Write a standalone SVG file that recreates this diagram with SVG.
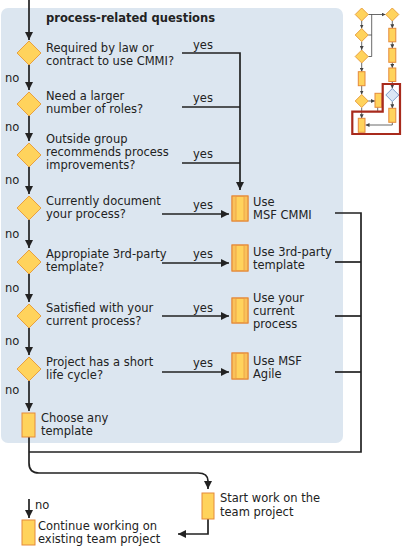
<svg xmlns="http://www.w3.org/2000/svg" width="402" height="546" viewBox="0 0 402 546">
<style>
.t{font-family:"DejaVu Sans",Verdana,sans-serif;font-size:11.5px;fill:#222}
.b{font-weight:bold}
.ln{fill:none;stroke:#222;stroke-width:1.7}
.sl{fill:none;stroke:#444;stroke-width:0.8}
.dia{fill:#ffd35c;stroke:#e8a040;stroke-width:1}
.box{fill:#ffd35c;stroke:#e58a3a;stroke-width:1}
.band{fill:#f9c25a;stroke:none}
.bl{stroke:#ec9f45;stroke-width:0.8}
.bdia{fill:#dbe7f5;stroke:#7c9ecb;stroke-width:1}
</style>
<defs>
<marker id="ar" markerUnits="userSpaceOnUse" markerWidth="8" markerHeight="8" refX="8" refY="4" orient="auto">
<path d="M0,0 L8,4 L0,8 Z" fill="#222"/>
</marker>
<marker id="sa" markerUnits="userSpaceOnUse" markerWidth="4" markerHeight="4" refX="4" refY="2" orient="auto">
<path d="M0,0 L4,2 L0,4 Z" fill="#444"/>
</marker>
</defs>
<rect x="1" y="8" width="342" height="435" rx="7" fill="#dce6f0"/>
<text class="t b" x="46" y="22">process-related questions</text>

<g id="connectors">
<path class="ln" d="M29,0 V40" marker-end="url(#ar)"/>
<path class="ln" d="M29,65 V90" marker-end="url(#ar)"/>
<path class="ln" d="M29,116 V141" marker-end="url(#ar)"/>
<path class="ln" d="M29,167 V194" marker-end="url(#ar)"/>
<path class="ln" d="M29,220 V248" marker-end="url(#ar)"/>
<path class="ln" d="M29,274 V302" marker-end="url(#ar)"/>
<path class="ln" d="M29,328 V355" marker-end="url(#ar)"/>
<path class="ln" d="M29,381 V411" marker-end="url(#ar)"/>
<path class="ln" d="M182,53 H240 V190" marker-end="url(#ar)"/>
<path class="ln" d="M182,107 H240"/>
<path class="ln" d="M182,163 H240"/>
<path class="ln" d="M162,214 H229" marker-end="url(#ar)"/>
<path class="ln" d="M162,263 H229" marker-end="url(#ar)"/>
<path class="ln" d="M162,316 H229" marker-end="url(#ar)"/>
<path class="ln" d="M162,372 H229" marker-end="url(#ar)"/>
<path class="ln" d="M335,213 H361 V452 H29"/>
<path class="ln" d="M335,262 H361"/>
<path class="ln" d="M335,316 H361"/>
<path class="ln" d="M335,372 H361"/>
<path class="ln" d="M29,437 V463 Q29,473 39,473 H198 Q208,473 208,481 V489" marker-end="url(#ar)"/>
<path class="ln" d="M208,519 V534 H178" marker-end="url(#ar)"/>
<path class="ln" d="M29,499 V518" marker-end="url(#ar)"/>
<text class="t" x="5" y="82">no</text>
<text class="t" x="5" y="131">no</text>
<text class="t" x="5" y="184">no</text>
<text class="t" x="5" y="238">no</text>
<text class="t" x="5" y="292">no</text>
<text class="t" x="5" y="345">no</text>
<text class="t" x="5" y="394">no</text>
<text class="t" x="193" y="49">yes</text>
<text class="t" x="193" y="102">yes</text>
<text class="t" x="193" y="158">yes</text>
<text class="t" x="193" y="209">yes</text>
<text class="t" x="193" y="258">yes</text>
<text class="t" x="193" y="312">yes</text>
<text class="t" x="193" y="367">yes</text>
<text class="t" x="35" y="509">no</text>
</g>

<g id="q1"><path class="dia" d="M29,41 L41,53 L29,65 L17,53 Z"/>
<text class="t" x="46" y="52">Required by law or</text><text class="t" x="46" y="65">contract to use CMMI?</text></g>
<g id="q2"><path class="dia" d="M29,92 L41,104 L29,116 L17,104 Z"/>
<text class="t" x="46" y="100">Need a larger</text><text class="t" x="46" y="113">number of roles?</text></g>
<g id="q3"><path class="dia" d="M29,143 L41,155 L29,167 L17,155 Z"/>
<text class="t" x="46" y="143">Outside group</text><text class="t" x="46" y="156">recommends process</text><text class="t" x="46" y="169">improvements?</text></g>
<g id="q4"><path class="dia" d="M29,196 L41,208 L29,220 L17,208 Z"/>
<text class="t" x="46" y="205">Currently document</text><text class="t" x="46" y="218">your process?</text></g>
<g id="q5"><path class="dia" d="M29,250 L41,262 L29,274 L17,262 Z"/>
<text class="t" x="46" y="258">Appropiate 3rd-party</text><text class="t" x="46" y="271">template?</text></g>
<g id="q6"><path class="dia" d="M29,304 L41,316 L29,328 L17,316 Z"/>
<text class="t" x="46" y="312">Satisfied with your</text><text class="t" x="46" y="325">current process?</text></g>
<g id="q7"><path class="dia" d="M29,357 L41,369 L29,381 L17,369 Z"/>
<text class="t" x="46" y="366">Project has a short</text><text class="t" x="46" y="379">life cycle?</text></g>

<g id="cmmi"><rect class="box" x="232" y="196" width="16" height="25"/><rect class="band" x="232.5" y="196.5" width="3.5" height="24"/><rect class="band" x="244" y="196.5" width="3.5" height="24"/><path class="bl" d="M236,196.5 V220.5 M244,196.5 V220.5"/><rect x="232" y="196" width="16" height="25" fill="none" stroke="#e58a3a"/>
<text class="t" x="253" y="206">Use</text><text class="t" x="253" y="219">MSF CMMI</text></g>
<g id="thirdparty"><rect class="box" x="232" y="245" width="16" height="26"/><rect class="band" x="232.5" y="245.5" width="3.5" height="25"/><rect class="band" x="244" y="245.5" width="3.5" height="25"/><path class="bl" d="M236,245.5 V270.5 M244,245.5 V270.5"/><rect x="232" y="245" width="16" height="26" fill="none" stroke="#e58a3a"/>
<text class="t" x="253" y="256">Use 3rd-party</text><text class="t" x="253" y="269">template</text></g>
<g id="current"><rect class="box" x="232" y="298" width="16" height="25"/><rect class="band" x="232.5" y="298.5" width="3.5" height="24"/><rect class="band" x="244" y="298.5" width="3.5" height="24"/><path class="bl" d="M236,298.5 V322.5 M244,298.5 V322.5"/><rect x="232" y="298" width="16" height="25" fill="none" stroke="#e58a3a"/>
<text class="t" x="253" y="302">Use your</text><text class="t" x="253" y="315">current</text><text class="t" x="253" y="328">process</text></g>
<g id="agile"><rect class="box" x="232" y="353" width="16" height="26"/><rect class="band" x="232.5" y="353.5" width="3.5" height="25"/><rect class="band" x="244" y="353.5" width="3.5" height="25"/><path class="bl" d="M236,353.5 V378.5 M244,353.5 V378.5"/><rect x="232" y="353" width="16" height="26" fill="none" stroke="#e58a3a"/>
<text class="t" x="253" y="365">Use MSF</text><text class="t" x="253" y="378">Agile</text></g>
<g id="choose"><rect class="box" x="22" y="413" width="13" height="24"/>
<text class="t" x="41" y="422">Choose any</text><text class="t" x="41" y="435">template</text></g>
<g id="start"><rect class="box" x="202" y="493" width="12" height="26"/>
<text class="t" x="220" y="502">Start work on the</text><text class="t" x="220" y="516">team project</text></g>
<g id="continue"><rect class="box" x="22" y="520" width="13" height="25"/>
<text class="t" x="38" y="530">Continue working on</text><text class="t" x="38" y="543">existing team project</text></g>

<g id="thumbnail">
<path class="sl" d="M368.2,14.5 H385.5" marker-end="url(#sa)"/>
<path class="sl" d="M361.7,21 V28.5" marker-end="url(#sa)"/>
<path class="sl" d="M361.7,41.5 V50" marker-end="url(#sa)"/>
<path class="sl" d="M361.7,63 V71.7" marker-end="url(#sa)"/>
<path class="sl" d="M361.7,85.7 V94.5" marker-end="url(#sa)"/>
<path class="sl" d="M368.2,101 H375" marker-end="url(#sa)"/>
<path class="sl" d="M361.7,107.5 V118.3" marker-end="url(#sa)"/>
<path class="sl" d="M371.7,14.5 V56.5 H368.2 M368.2,35 H371.7"/>
<path class="sl" d="M392.3,21 V28.3" marker-end="url(#sa)"/>
<path class="sl" d="M392.3,41.8 V48.3" marker-end="url(#sa)"/>
<path class="sl" d="M392.3,62.3 V68" marker-end="url(#sa)"/>
<path class="sl" d="M392.3,81.5 V88.5" marker-end="url(#sa)"/>
<path class="sl" d="M392.3,101.5 V108.3" marker-end="url(#sa)"/>
<path class="sl" d="M392.3,122.3 V125 H365.5" marker-end="url(#sa)"/>
<path class="sl" d="M377.7,107.3 V111.7"/>
<path class="dia" d="M361.7,8 L368.2,14.5 L361.7,21 L355.2,14.5 Z"/>
<path class="dia" d="M392.3,8 L398.8,14.5 L392.3,21 L385.8,14.5 Z"/>
<path class="dia" d="M361.7,28.5 L368.2,35 L361.7,41.5 L355.2,35 Z"/>
<path class="dia" d="M361.7,50 L368.2,56.5 L361.7,63 L355.2,56.5 Z"/>
<path class="dia" d="M361.7,94.5 L368.2,101 L361.7,107.5 L355.2,101 Z"/>
<path class="bdia" d="M392.3,88.5 L398.8,95 L392.3,101.5 L385.8,95 Z"/>
<rect class="box" x="358.3" y="71.7" width="6.7" height="14"/>
<rect class="box" x="358.3" y="118.3" width="6.7" height="14"/>
<rect class="box" x="375" y="93.3" width="6.7" height="14"/>
<rect class="box" x="388.8" y="28.3" width="7" height="13.5"/>
<rect class="box" x="388.8" y="48.3" width="7" height="14"/>
<rect class="box" x="388.8" y="68" width="7" height="13.5"/>
<rect class="box" x="388.8" y="108.3" width="7" height="14"/>
<path d="M352.3,111.7 H382.7 V84 H400 V134 H352.3 Z" fill="none" stroke="#a82a1c" stroke-width="2.2"/>
</g>
</svg>
